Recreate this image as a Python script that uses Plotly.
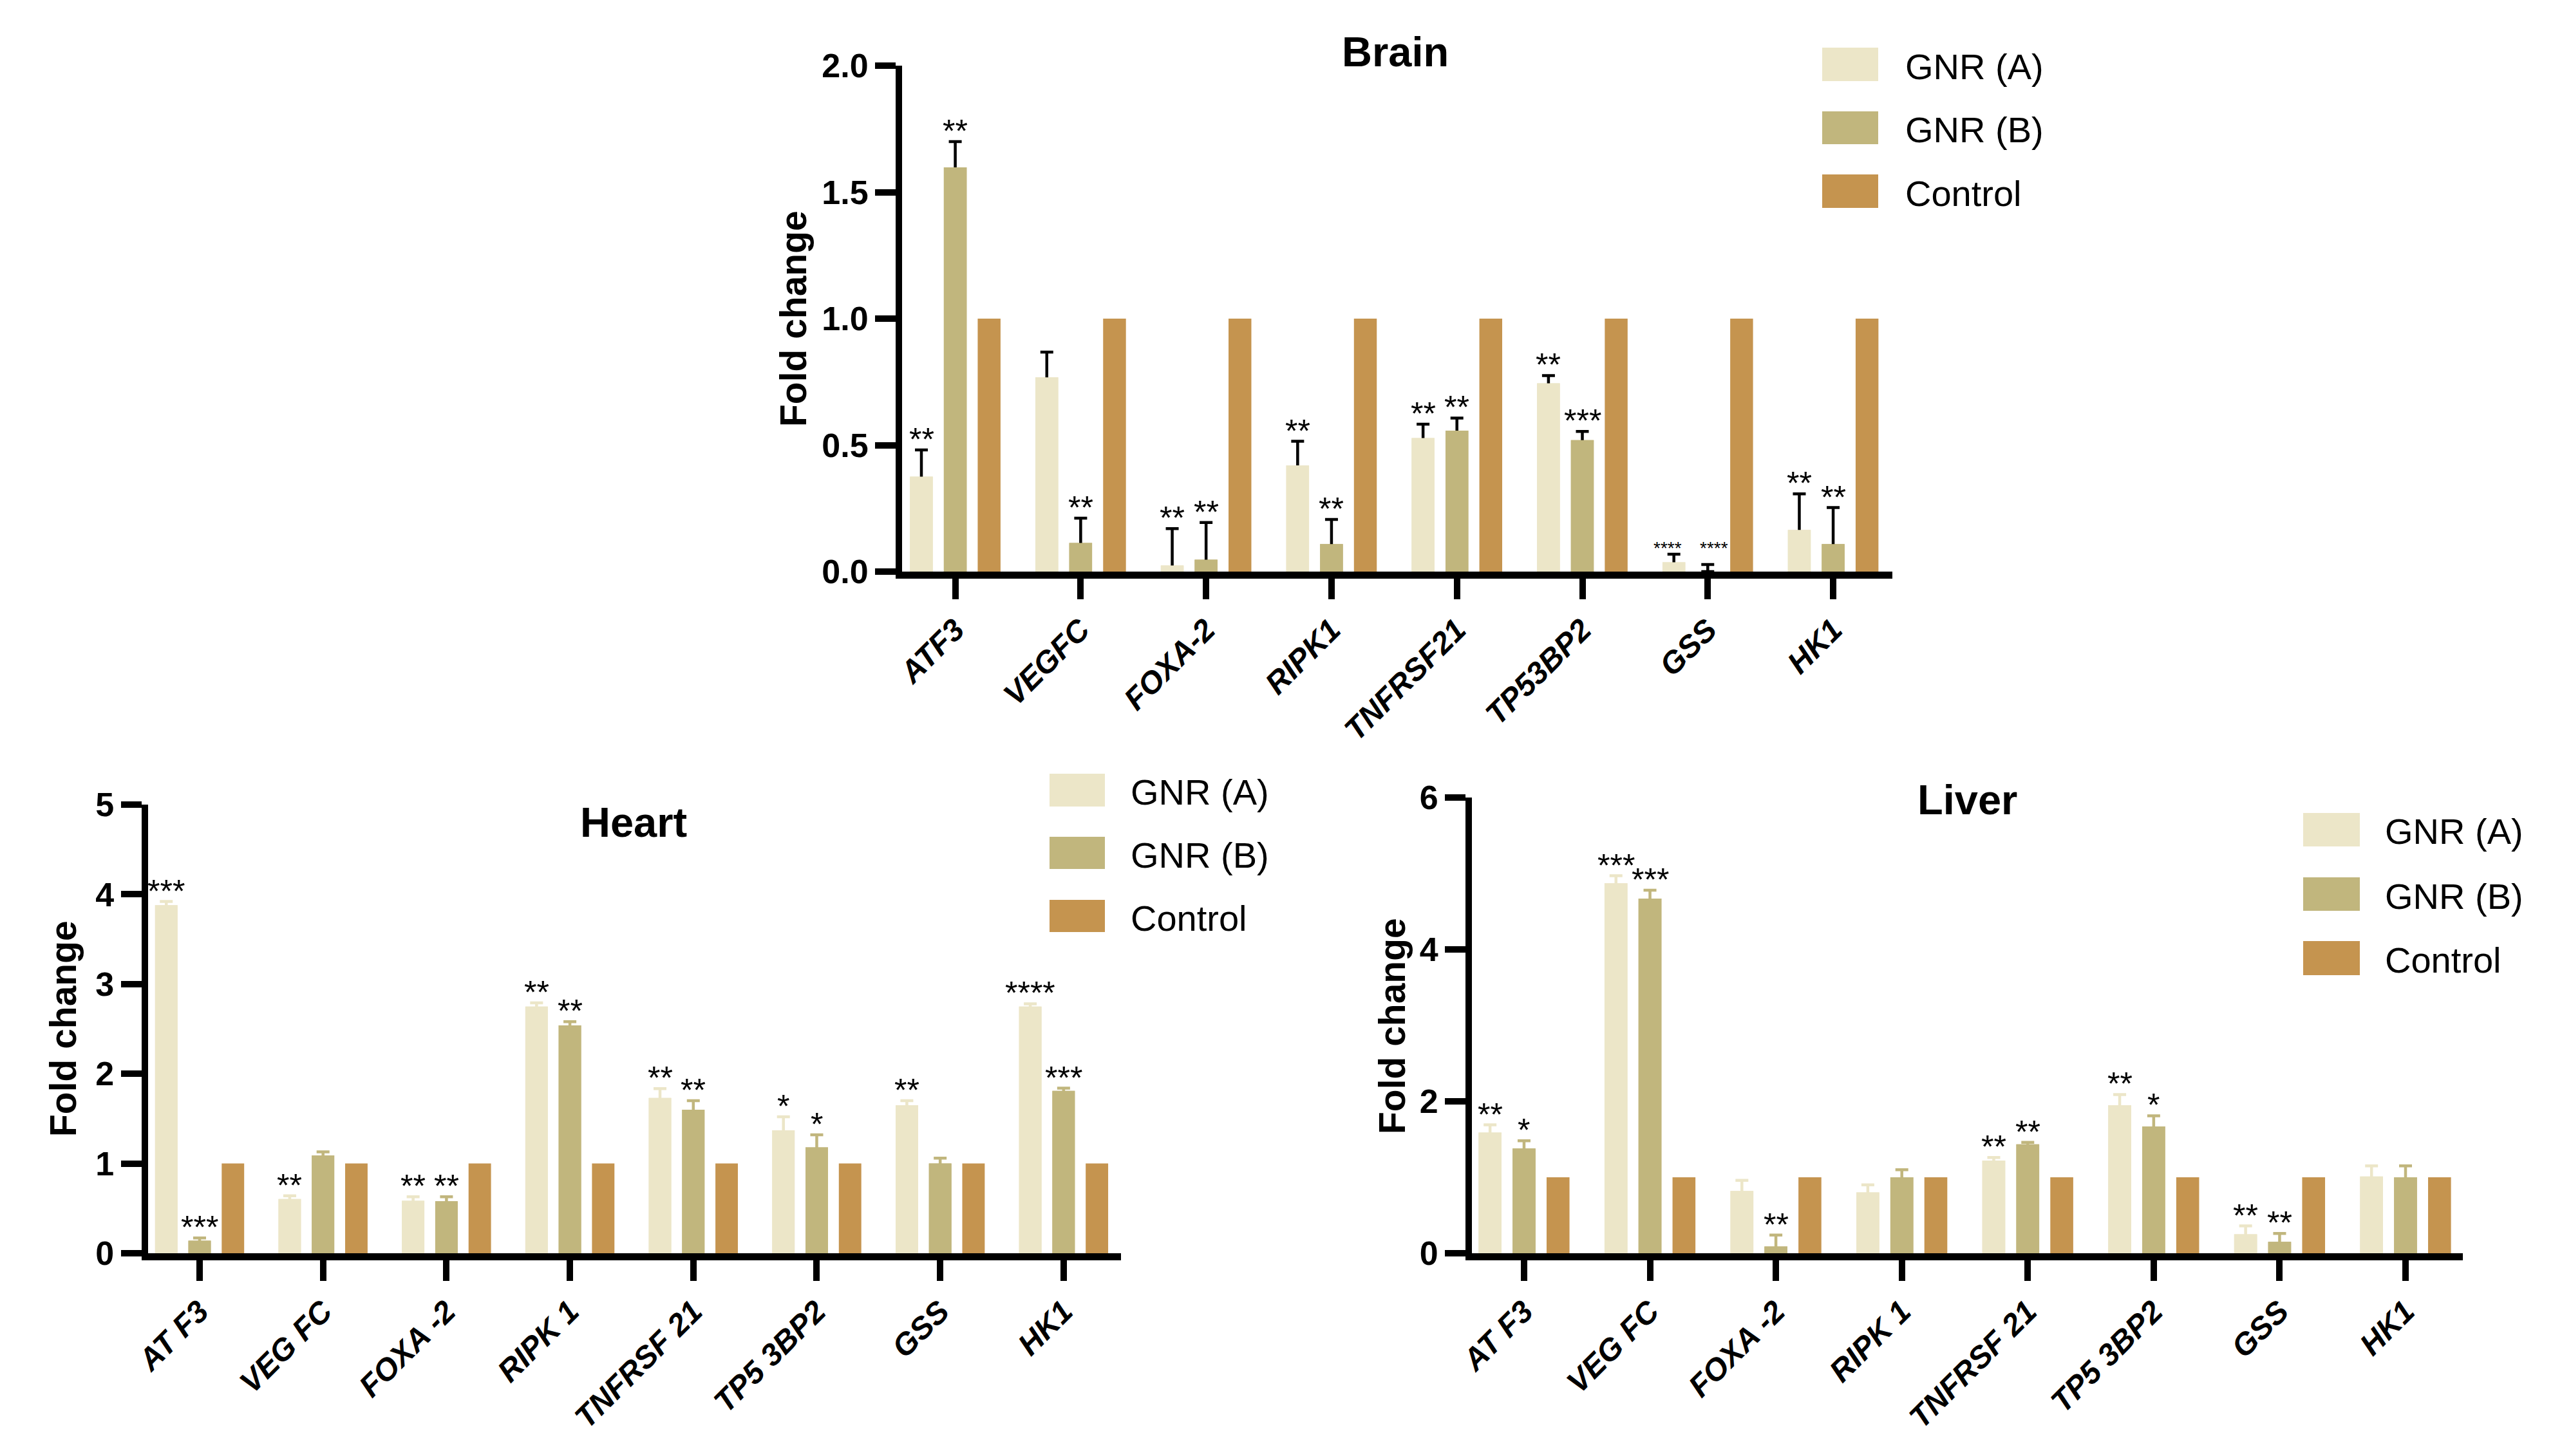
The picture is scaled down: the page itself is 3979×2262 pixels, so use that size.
import plotly.graph_objects as go

W, H = 3979, 2262
FONT = "Liberation Sans, Arial, sans-serif"

# ---------------- data ----------------
genes = ["ATF3", "VEGFC", "FOXA-2", "RIPK1", "TNFRSF21", "TP53BP2", "GSS", "HK1"]
brain_ticktext = ["ATF3", "VEGFC", "FOXA-2", "RIPK1", "TNFRSF21", "TP53BP2", "GSS", "HK1"]
other_ticktext = ["AT F3", "VEG FC", "FOXA -2", "RIPK 1", "TNFRSF 21", "TP5 3BP2", "GSS", "HK1"]
series_names = ["GNR (A)", "GNR (B)", "Control"]
colors = ["#ECE6C8", "#C1B67D", "#C5944F"]

brain_A = [0.375, 0.768, 0.024, 0.42, 0.528, 0.744, 0.037, 0.165]
brain_A_err = [0.106, 0.10, 0.146, 0.095, 0.055, 0.031, 0.032, 0.142]
brain_B = [1.598, 0.113, 0.047, 0.109, 0.557, 0.52, 0.0, 0.109]
brain_B_err = [0.102, 0.098, 0.147, 0.097, 0.05, 0.034, 0.028, 0.144]
brain_C = [1, 1, 1, 1, 1, 1, 1, 1]
brain_A_sig = ["**", "", "**", "**", "**", "**", "****", "**"]
brain_B_sig = ["**", "**", "**", "**", "**", "***", "****", "**"]

heart_A = [3.88, 0.605, 0.585, 2.75, 1.73, 1.37, 1.65, 2.75]
heart_A_err = [0.04, 0.035, 0.045, 0.04, 0.105, 0.15, 0.05, 0.03]
heart_B = [0.14, 1.09, 0.58, 2.54, 1.60, 1.18, 1.00, 1.81]
heart_B_err = [0.03, 0.04, 0.05, 0.04, 0.10, 0.14, 0.06, 0.03]
heart_C = [1, 1, 1, 1, 1, 1, 1, 1]
heart_A_sig = ["***", "**", "**", "**", "**", "*", "**", "****"]
heart_B_sig = ["***", "", "**", "**", "**", "*", "", "***"]

liver_A = [1.59, 4.87, 0.82, 0.80, 1.22, 1.95, 0.25, 1.01]
liver_A_err = [0.10, 0.10, 0.14, 0.10, 0.04, 0.14, 0.11, 0.14]
liver_B = [1.38, 4.67, 0.09, 1.00, 1.435, 1.67, 0.15, 1.00]
liver_B_err = [0.10, 0.11, 0.15, 0.10, 0.025, 0.14, 0.11, 0.15]
liver_C = [1, 1, 1, 1, 1, 1, 1, 1]
liver_A_sig = ["**", "***", "", "", "**", "**", "**", ""]
liver_B_sig = ["*", "***", "**", "", "**", "*", "**", ""]

# ---------------- layout geometry (target pixels in the picture) ----------------
PAGE_OFF = 8  # default page margin around the figure

def px_x(v):
    return (v - PAGE_OFF) / W

def px_y(v):
    return 1 - (v - PAGE_OFF) / H

panels = [
    dict(name="Brain", ax="", A=brain_A, Ae=brain_A_err, B=brain_B, Be=brain_B_err, C=brain_C,
         As=brain_A_sig, Bs=brain_B_sig, ticktext=brain_ticktext, errcolor=["black", "black"],
         xdom=[px_x(1401), px_x(2939)], ydom=[px_y(888), px_y(102)],
         xrange=[-0.424, 7.472], yrange=[0, 2], dtick=0.5, fmt=".1f",
         title_xy=(2167, 80), ytitle_xy=(1232, 495),
         leg_x=(2830, 2917), leg_rows=[(74, 126), (173, 224), (271, 323)], leg_tx=2957),
    dict(name="Heart", ax="2", A=heart_A, Ae=heart_A_err, B=heart_B, Be=heart_B_err, C=heart_C,
         As=heart_A_sig, Bs=heart_B_sig, ticktext=other_ticktext, errcolor=[colors[0], colors[1]],
         xdom=[px_x(229.5), px_x(1741)], ydom=[px_y(1947), px_y(1250)],
         xrange=[-0.42, 7.465], yrange=[0, 5], dtick=1, fmt="d",
         title_xy=(984, 1277), ytitle_xy=(98, 1598),
         leg_x=(1630, 1716), leg_rows=[(1202, 1253), (1300, 1350), (1398, 1448)], leg_tx=1754),
    dict(name="Liver", ax="3", A=liver_A, Ae=liver_A_err, B=liver_B, Be=liver_B_err, C=liver_C,
         As=liver_A_sig, Bs=liver_B_sig, ticktext=other_ticktext, errcolor=[colors[0], colors[1]],
         xdom=[px_x(2286), px_x(3825)], ydom=[px_y(1947), px_y(1239)],
         xrange=[-0.414, 7.455], yrange=[0, 6], dtick=2, fmt="d",
         title_xy=(3055, 1242), ytitle_xy=(2162, 1594),
         leg_x=(3577, 3665), leg_rows=[(1263, 1315), (1363, 1415), (1462, 1515)], leg_tx=3702),
]

SLOT = 0.27
BW = 0.182
offsets = [-SLOT - BW / 2, -BW / 2, SLOT - BW / 2]

fig = go.Figure()
annotations = []
shapes = []

for p in panels:
    xa = "x" + p["ax"]
    ya = "y" + p["ax"]
    vals = [p["A"], p["B"], p["C"]]
    errs = [p["Ae"], p["Be"], None]
    sigs = [p["As"], p["Bs"], None]
    # bars with error bars
    for s in range(3):
        kw = {}
        if errs[s] is not None:
            kw["error_y"] = dict(type="data", symmetric=False, array=errs[s], arrayminus=vals[s],
                                 color=p["errcolor"][s], thickness=4.5, width=10)
        fig.add_trace(go.Bar(x=genes, y=vals[s], name=series_names[s], width=BW, offset=offsets[s],
                             marker=dict(color=colors[s], line=dict(width=0)),
                             xaxis=xa, yaxis=ya, showlegend=False, **kw))
    # cover copies hide the lower part of the error bars inside the bars
    for s in range(2):
        fig.add_trace(go.Bar(x=genes, y=vals[s], name=series_names[s], width=BW, offset=offsets[s],
                             marker=dict(color=colors[s], line=dict(width=0)),
                             xaxis=xa, yaxis=ya, showlegend=False, hoverinfo="skip"))
    # significance stars
    for s in range(2):
        for i, g in enumerate(genes):
            t = sigs[s][i]
            if not t:
                continue
            small = (t == "****" and p["name"] == "Brain")
            top = vals[s][i] + errs[s][i]
            if small:
                # the tiny star labels share one height above the taller of the pair
                top = max(vals[0][i] + errs[0][i], vals[1][i] + errs[1][i])
            annotations.append(dict(
                x=i + (s - 1) * SLOT, y=top, xref=xa, yref=ya,
                text=t, showarrow=False, xanchor="center", yanchor="bottom",
                yshift=-14 if not small else -8,
                xshift=0 if not small else (-10 if s == 0 else 10),
                font=dict(family=FONT, size=50 if not small else 28, color="black")))
    # title
    annotations.append(dict(x=px_x(p["title_xy"][0]), y=px_y(p["title_xy"][1]), xref="paper", yref="paper",
                            text=p["name"], showarrow=False, xanchor="center", yanchor="middle",
                            font=dict(family=FONT, size=65, color="black", weight="bold")))
    # y title
    annotations.append(dict(x=px_x(p["ytitle_xy"][0]), y=px_y(p["ytitle_xy"][1]), xref="paper", yref="paper",
                            text="Fold change", textangle=-90, showarrow=False, xanchor="center",
                            yanchor="middle",
                            font=dict(family=FONT, size=57, color="black", weight="bold")))
    # legend
    for s in range(3):
        y0, y1 = p["leg_rows"][s]
        shapes.append(dict(type="rect", xref="paper", yref="paper",
                           x0=px_x(p["leg_x"][0]), x1=px_x(p["leg_x"][1]),
                           y0=px_y(y1), y1=px_y(y0), fillcolor=colors[s], line=dict(width=0)))
        annotations.append(dict(x=px_x(p["leg_tx"]), y=px_y((y0 + y1) / 2 + 3), xref="paper", yref="paper",
                                text=series_names[s], showarrow=False, xanchor="left", yanchor="middle",
                                font=dict(family=FONT, size=56, color="black")))
    # axes
    xkey = "xaxis" + p["ax"]
    ykey = "yaxis" + p["ax"]
    fig.update_layout({
        xkey: dict(domain=p["xdom"], anchor=ya, type="category", categoryorder="array",
                   categoryarray=genes, tickmode="array", tickvals=genes, ticktext=p["ticktext"],
                   range=p["xrange"], showline=True, linewidth=11, linecolor="black",
                   ticks="outside", ticklen=32, tickwidth=10, tickcolor="black", tickangle=-45,
                   showgrid=False, zeroline=False, fixedrange=True, automargin=False,
                   tickfont=dict(family=FONT, size=48, color="black", weight="bold", style="italic")),
        ykey: dict(domain=p["ydom"], anchor=xa, range=p["yrange"], dtick=p["dtick"], tick0=0,
                   tickformat=p["fmt"], showline=True, linewidth=10, linecolor="black",
                   ticks="outside", ticklen=32, tickwidth=10, tickcolor="black",
                   showgrid=False, zeroline=False, fixedrange=True, automargin=False,
                   tickfont=dict(family=FONT, size=52, color="black", weight="bold")),
    })

fig.update_layout(width=W, height=H, margin=dict(l=0, r=0, t=0, b=0, pad=0, autoexpand=False),
                  paper_bgcolor="white", plot_bgcolor="white", barmode="overlay",
                  showlegend=False, annotations=annotations, shapes=shapes)

fig.write_html("out.html")
